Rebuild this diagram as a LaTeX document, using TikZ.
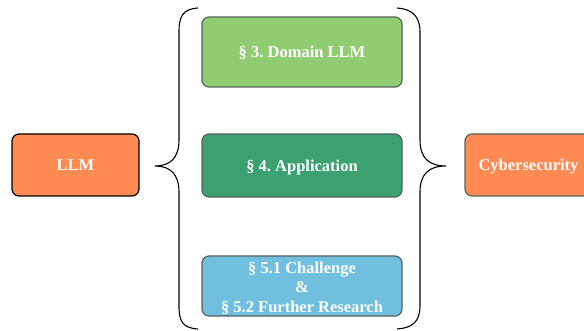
\documentclass[tikz,border=0pt]{standalone}
\usepackage{fontspec}
\setmainfont{Liberation Serif}
\frenchspacing
\definecolor{orangeF}{HTML}{FF8A52}
\definecolor{greenL}{HTML}{92CC72}
\definecolor{greenD}{HTML}{3BA170}
\definecolor{blueL}{HTML}{70BFDF}
\definecolor{borderG}{HTML}{56625F}
\begin{document}
\begin{tikzpicture}[x=1pt,y=-1pt,
  box/.style={draw=borderG,line width=1.2pt,rounded corners=7pt,text=white,font=\bfseries\fontsize{16.5}{18}\selectfont,align=center,inner sep=0pt},
  one/.style={text depth=0pt},
  brace/.style={draw=black,line width=1.1pt}]
\useasboundingbox (0,0) rectangle (584,331);
\clip (0,0) rectangle (584,331);
\node[box,one,draw=black,fill=orangeF,minimum width=127pt,minimum height=62pt] (llm) at (75.5,165) {LLM};
\node[box,one,fill=greenL,minimum width=200pt,minimum height=70pt] (dom) at (302,52) {\S\ 3. Domain LLM};
\node[box,one,fill=greenD,minimum width=200pt,minimum height=63pt] (app) at (302,165.5) {\S\ 4. Application};
\node[box,fill=blueL,minimum width=200pt,minimum height=60pt] (ch) at (302,286) {};
\node[text=white,font=\bfseries\fontsize{16.5}{19.5}\selectfont,align=center,inner sep=0pt] (chtext) at ([yshift=-2pt]ch.center) {\S\ 5.1 Challenge\\\&\\\S\ 5.2 Further Research};
\node[box,one,fill=orangeF,minimum width=127pt,minimum height=62pt] (cy) at (528.5,165) {Cybersecurity};
\coordinate (lt) at (198,8);
\coordinate (lb) at (198,329);
\coordinate (lm) at (155,166);
\coordinate (rt) at (397,8);
\coordinate (rb) at (397,329);
\coordinate (rm) at (446,166);
\draw[brace] (lt) .. controls (183,9) and (179,16) .. (179,32) -- (179,140) .. controls (179,158) and (170,166) .. (lm) .. controls (170,166) and (179,174) .. (179,192) -- (179,306) .. controls (179,322) and (183,328) .. (lb);
\draw[brace] (rt) .. controls (412,9) and (420,16) .. (420,32) -- (420,140) .. controls (420,158) and (429,166) .. (rm) .. controls (429,166) and (420,174) .. (420,192) -- (420,306) .. controls (420,322) and (412,328) .. (rb);
\end{tikzpicture}
\end{document}
